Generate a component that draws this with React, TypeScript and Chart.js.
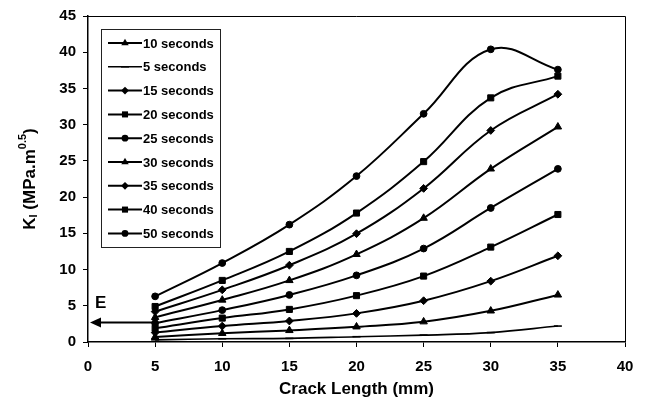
import React, { useEffect, useRef } from "react";
import { Chart, registerables } from "chart.js";
Chart.register(...registerables);

// ---- data ----
const crackLength = [5, 10, 15, 20, 25, 30, 35];
const seriesLabels = ["10 seconds", "5 seconds", "15 seconds", "20 seconds", "25 seconds", "30 seconds", "35 seconds", "40 seconds", "50 seconds"];
const k10 = [0.7, 1.2, 1.6, 2.1, 2.8, 4.3, 6.5];
const k5 = [0.3, 0.45, 0.5, 0.73, 0.95, 1.3, 2.2];
const k15 = [1.3, 2.2, 2.9, 3.95, 5.7, 8.4, 11.9];
const k20 = [1.9, 3.3, 4.5, 6.4, 9.1, 13.1, 17.6];
const k25 = [2.6, 4.4, 6.5, 9.2, 12.9, 18.5, 23.9];
const k30 = [3.4, 5.8, 8.5, 12.1, 17.1, 23.9, 29.7];
const k35 = [4.2, 7.2, 10.6, 14.95, 21.2, 29.2, 34.2];
const k40 = [4.9, 8.5, 12.5, 17.8, 24.9, 33.7, 36.7];
const k50 = [6.3, 10.9, 16.2, 22.9, 31.5, 40.4, 37.6];
const seriesValues = [k10, k5, k15, k20, k25, k30, k35, k40, k50];
const seriesMarkers = ["triangle", "line", "rectRot", "rect", "circle", "triangle", "rectRot", "rect", "circle"];

const xTicks = { min: 0, max: 40, step: 5 };
const yTicks = { min: 0, max: 45, step: 5 };

// "E" arrow annotation (data coordinates)
const arrowX = [5, 0.15];
const arrowY = 2.7;
const eLabel = { text: "E", x: 0.95, y: 5.3 };

const xTitle = "Crack Length (mm)";

const FONT = "'Liberation Sans', Arial, sans-serif";

function markerRadius(style: string) {
  if (style === "rect") return 4.3;
  if (style === "rectRot") return 3.9;
  if (style === "triangle") return 4.3;
  if (style === "line") return 4;
  return 3.4;
}

function drawMarker(ctx: CanvasRenderingContext2D, style: string, x: number, y: number, r: number) {
  ctx.beginPath();
  if (style === "circle") {
    ctx.arc(x, y, r, 0, Math.PI * 2);
    ctx.fill();
  } else if (style === "rect") {
    const s = Math.SQRT1_2 * r;
    ctx.rect(x - s, y - s, 2 * s, 2 * s);
    ctx.fill();
  } else if (style === "rectRot") {
    ctx.moveTo(x - r, y);
    ctx.lineTo(x, y - r);
    ctx.lineTo(x + r, y);
    ctx.lineTo(x, y + r);
    ctx.closePath();
    ctx.fill();
  } else if (style === "triangle") {
    const side = (3 * r) / Math.sqrt(3);
    const h = (side * Math.sqrt(3)) / 2;
    ctx.moveTo(x, y - (2 * h) / 3);
    ctx.lineTo(x + side / 2, y + h / 3);
    ctx.lineTo(x - side / 2, y + h / 3);
    ctx.closePath();
    ctx.fill();
  } else if (style === "line") {
    ctx.moveTo(x - r, y);
    ctx.lineTo(x + r, y);
    ctx.stroke();
  }
}

const framePlugin = {
  id: "frame",
  afterDraw(chart: any) {
    const { ctx, chartArea: a, scales } = chart;
    ctx.save();
    // plot box (top & right)
    ctx.strokeStyle = "#000";
    ctx.lineWidth = 1;
    ctx.beginPath();
    ctx.moveTo(a.left, a.top + 0.5);
    ctx.lineTo(a.right + 0.5, a.top + 0.5);
    ctx.lineTo(a.right + 0.5, a.bottom);
    ctx.stroke();

    // arrow E
    const xs = scales.x, ys = scales.y;
    const ax0 = xs.getPixelForValue(arrowX[0]);
    const ax1 = xs.getPixelForValue(arrowX[1]);
    const ay = ys.getPixelForValue(arrowY);
    ctx.lineWidth = 2;
    ctx.beginPath();
    ctx.moveTo(ax0, ay);
    ctx.lineTo(ax1 + 8, ay);
    ctx.stroke();
    ctx.fillStyle = "#000";
    ctx.beginPath();
    ctx.moveTo(ax1, ay);
    ctx.lineTo(ax1 + 11, ay - 5);
    ctx.lineTo(ax1 + 11, ay + 5);
    ctx.closePath();
    ctx.fill();
    ctx.font = `bold 17px ${FONT}`;
    ctx.textAlign = "center";
    ctx.textBaseline = "middle";
    ctx.fillText(eLabel.text, xs.getPixelForValue(eLabel.x), ys.getPixelForValue(eLabel.y));

    // legend box
    const bx = 101.5, by = 29.5, bw = 119, bh = 218;
    ctx.fillStyle = "#fff";
    ctx.fillRect(bx, by, bw, bh);
    ctx.lineWidth = 1;
    ctx.strokeStyle = "#222";
    ctx.strokeRect(bx, by, bw, bh);
    ctx.font = `bold 13px ${FONT}`;
    ctx.textAlign = "left";
    ctx.textBaseline = "middle";
    chart.data.datasets.forEach((ds: any, i: number) => {
      const y = 43 + i * 23.8;
      ctx.strokeStyle = "#000";
      ctx.lineWidth = ds.borderWidth;
      ctx.beginPath();
      ctx.moveTo(108, y);
      ctx.lineTo(142, y);
      ctx.stroke();
      ctx.fillStyle = "#000";
      ctx.lineWidth = 1.5;
      drawMarker(ctx, ds.pointStyle, 125, y, ds.pointRadius);
      ctx.fillStyle = "#000";
      ctx.fillText(ds.label, 143, y + 1);
    });

    // y axis title K_I (MPa.m^0.5)
    const cx = 30;
    const cy = (a.top + a.bottom) / 2;
    ctx.translate(cx, cy);
    ctx.rotate(-Math.PI / 2);
    const big = `bold 17px ${FONT}`;
    const small = `bold 11px ${FONT}`;
    const parts = [
      { t: "K", f: big, dy: 0 },
      { t: "I", f: small, dy: 4 },
      { t: " (MPa.m", f: big, dy: 0 },
      { t: "0.5", f: small, dy: -7 },
      { t: ")", f: big, dy: 0 },
    ];
    let total = 0;
    parts.forEach((p) => { ctx.font = p.f; total += ctx.measureText(p.t).width; });
    let px = -total / 2;
    ctx.fillStyle = "#000";
    ctx.textAlign = "left";
    ctx.textBaseline = "middle";
    parts.forEach((p) => {
      ctx.font = p.f;
      ctx.fillText(p.t, px, p.dy);
      px += ctx.measureText(p.t).width;
    });
    ctx.restore();
  },
};

export default function App() {
  const ref = useRef<HTMLCanvasElement | null>(null);
  useEffect(() => {
    if (!ref.current) return;
    const datasets = seriesLabels.map((label, i) => ({
      label,
      data: crackLength.map((x, j) => ({ x, y: seriesValues[i][j] })),
      borderColor: "#000",
      backgroundColor: "#000",
      borderWidth: i === 1 ? 1.6 : 2,
      pointStyle: seriesMarkers[i],
      pointRadius: markerRadius(seriesMarkers[i]),
      pointBorderWidth: i === 1 ? 1.6 : 1,
      pointBackgroundColor: "#000",
      pointBorderColor: "#000",
      tension: 0.4,
      fill: false,
    }));
    const chart = new Chart(ref.current, {
      type: "line",
      data: { datasets },
      plugins: [framePlugin],
      options: {
        animation: false,
        responsive: false,
        devicePixelRatio: 1,
        layout: { padding: { top: 15, right: 21, left: 0, bottom: 0 } },
        plugins: { legend: { display: false }, tooltip: { enabled: false } },
        scales: {
          x: {
            type: "linear",
            min: xTicks.min,
            max: xTicks.max,
            ticks: { stepSize: xTicks.step, color: "#000", font: { family: FONT, size: 15, weight: "bold" }, padding: 11, maxRotation: 0 },
            grid: { display: true, drawOnChartArea: false, drawTicks: true, tickLength: 5, color: "#000" },
            border: { display: true, color: "#000", width: 1.5 },
            title: { display: true, text: xTitle, color: "#000", font: { family: FONT, size: 17, weight: "bold" }, padding: { top: 0, bottom: 2 } },
            afterFit: (s: any) => { s.height = 60; },
          },
          y: {
            type: "linear",
            min: yTicks.min,
            max: yTicks.max,
            ticks: { stepSize: yTicks.step, color: "#000", font: { family: FONT, size: 15, weight: "bold" }, padding: 7 },
            grid: { display: true, drawOnChartArea: false, drawTicks: true, tickLength: 5, color: "#000" },
            border: { display: true, color: "#000", width: 1.5 },
            afterFit: (s: any) => { s.width = 88; },
          },
        },
      } as any,
    });
    return () => chart.destroy();
  }, []);
  return (
    <div style={{ position: "fixed", left: 0, top: 0, width: 646, height: 402, background: "#fff" }}>
      <canvas ref={ref} width={646} height={402} style={{ width: 646, height: 402, display: "block" }} />
    </div>
  );
}
